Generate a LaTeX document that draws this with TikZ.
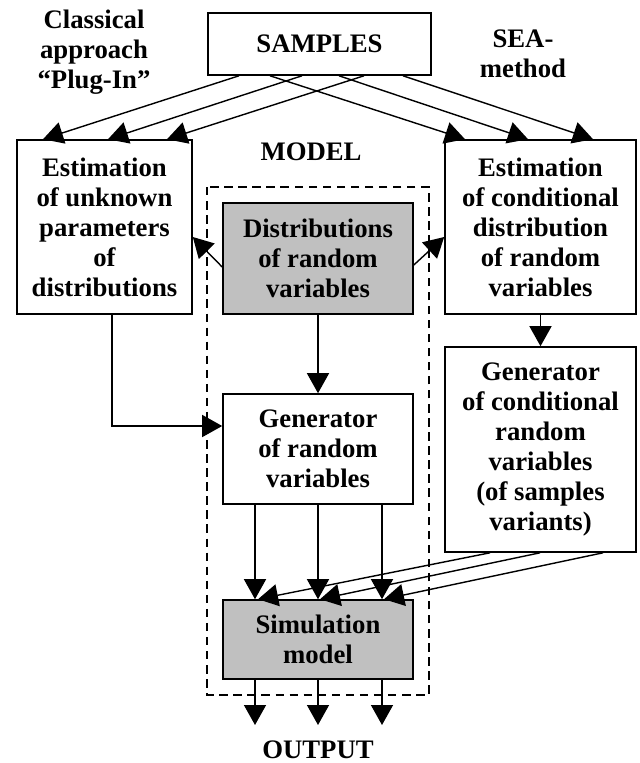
\documentclass[tikz,border=0pt]{standalone}
\usepackage{fontspec}
\setmainfont{Liberation Serif}
\usetikzlibrary{calc,arrows.meta}
\definecolor{boxgray}{RGB}{192,192,192}
\tikzset{
  blok/.style={draw, line width=1.1pt, align=center, inner sep=0pt,
    font=\bfseries\fontsize{19}{21.3}\selectfont},
  grblok/.style={blok, fill=boxgray},
  lbl/.style={align=center, inner sep=0pt,
    font=\bfseries\fontsize{19}{21.3}\selectfont},
  arr/.style={-{Triangle[length=0.5cm,width=0.55cm]}, line width=1pt}
}
\begin{document}
\begin{tikzpicture}[x=0.025cm,y=-0.025cm]
        \useasboundingbox (0,0) rectangle (639,763);

        % Boxes
        \node[blok, minimum width=5.575cm, minimum height=1.55cm] (samples) at (319.5,44) {SAMPLES};
        \node[blok, minimum width=4.375cm, minimum height=4.35cm] (estpar) at (104.5,227) {Estimation\\of unknown\\parameters\\of\\distributions};
        \node[blok, minimum width=4.775cm, minimum height=4.35cm] (estcond) at (540.5,227) {Estimation\\of conditional\\distribution\\of random\\variables};
        \node[grblok, minimum width=4.75cm, minimum height=2.775cm] (distr) at (318,258.5) {Distributions\\of random\\variables};
        \node[blok, minimum width=4.75cm, minimum height=2.75cm] (gen) at (318,449) {Generator\\of random\\variables};
        \node[blok, minimum width=4.775cm, minimum height=5.125cm] (gencond) at (540.5,449.5) {Generator\\of conditional\\random\\variables\\(of samples\\variants)};
        \node[grblok, minimum width=4.75cm, minimum height=1.975cm] (sim) at (318,639.5) {Simulation\\model};

        % Labels
        \node[lbl] (classic) at (94,52) {Classical\\approach\\``Plug-In''};
        \node[lbl] (sea) at (523,54) {SEA-\\method};
        \node[lbl] (model) at (311,152) {MODEL};
        \node[lbl] (output) at (318,750) {OUTPUT};
        \draw[dashed, line width=0.9pt, dash pattern=on 6pt off 4pt] (207,187) rectangle (429,695);

        % Samples to estimations
        \draw[arr] ($(samples.south)+(-80.5,0)$) -- ($(estpar.north)+(-61.5,0)$);
        \draw[arr] ($(samples.south)+(-17.5,0)$) -- ($(estpar.north)+(3.5,0)$);
        \draw[arr] ($(samples.south)+(44.5,0)$) -- ($(estpar.north)+(62.5,0)$);
        \draw[arr] ($(samples.south)+(-49.5,0)$) -- ($(estcond.north)+(-75.5,0)$);
        \draw[arr] ($(samples.south)+(19.5,0)$) -- ($(estcond.north)+(-12.5,0)$);
        \draw[arr] ($(samples.south)+(83.5,0)$) -- ($(estcond.north)+(52.5,0)$);

        % Inside the model
        \draw[arr] ($(distr.west)+(0,8.5)$) -- ($(estpar.east)+(0,10)$);
        \draw[arr] ($(distr.east)+(0,6.5)$) -- ($(estcond.west)+(0,10)$);
        \draw[arr] (distr) -- (gen);
        \draw[arr] ($(estpar.south)+(7.5,0)$) |- ($(gen.west)+(0,-23)$);
        \draw[arr] (estcond) -- (gencond);
        \draw[arr] ($(gen.south)+(-63,0)$) -- ($(sim.north)+(-63,0)$);
        \draw[arr] (gen) -- (sim);
        \draw[arr] ($(gen.south)+(64,0)$) -- ($(sim.north)+(64,0)$);
        \draw[arr] ($(gencond.south)+(-50.5,0)$) -- ($(sim.north)+(-60,0)$);
        \draw[arr] ($(gencond.south)+(-0.5,0)$) -- ($(sim.north)+(2,0)$);
        \draw[arr] ($(gencond.south)+(62.5,0)$) -- ($(sim.north)+(66,0)$);

        % Output
        \coordinate (out1) at (255,725);
        \coordinate (out2) at (318,725);
        \coordinate (out3) at (382,725);
        \draw[arr] (sim.south -| out1) -- (out1);
        \draw[arr] (sim.south -| out2) -- (out2);
        \draw[arr] (sim.south -| out3) -- (out3);
    \end{tikzpicture}
\end{document}
